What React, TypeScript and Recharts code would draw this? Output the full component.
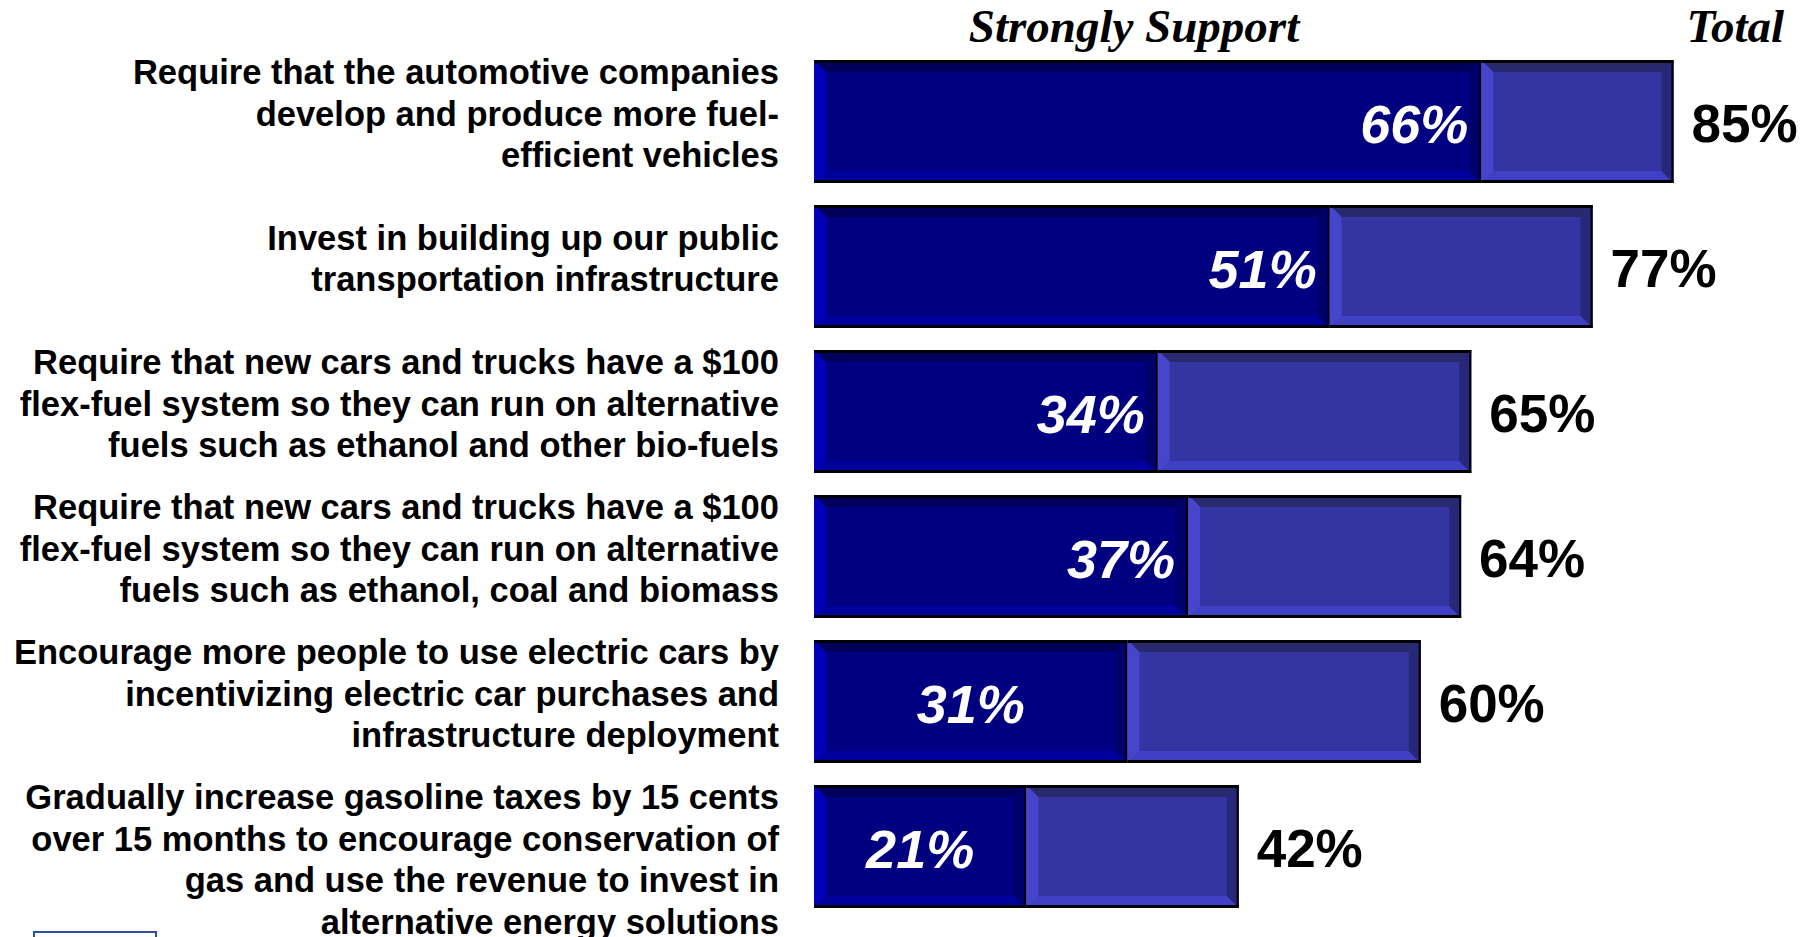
import React from 'react'
import { BarChart, Bar, XAxis, YAxis, LabelList } from 'recharts'

const categories = [
  'Require that the automotive companies\ndevelop and produce more fuel-\nefficient vehicles',
  'Invest in building up our public\ntransportation infrastructure',
  'Require that new cars and trucks have a $100\nflex-fuel system so they can run on alternative\nfuels such as ethanol and other bio-fuels',
  'Require that new cars and trucks have a $100\nflex-fuel system so they can run on alternative\nfuels such as ethanol, coal and biomass',
  'Encourage more people to use electric cars by\nincentivizing electric car purchases and\ninfrastructure deployment',
  'Gradually increase gasoline taxes by 15 cents\nover 15 months to encourage conservation of\ngas and use the revenue to invest in\nalternative energy solutions',
]
const stronglySupport = [66, 51, 34, 37, 31, 21]
const totalSupport = [85, 77, 65, 64, 60, 42]

const data = categories.map((name, i) => ({
  name,
  strong: stronglySupport[i],
  rest: totalSupport[i] - stronglySupport[i],
  total: totalSupport[i],
}))

const TONES = {
  dark: { base: '#000080', top: '#00005c', bottom: '#00009c', left: '#0000b8', right: '#00006a' },
  light: { base: '#3434a2', top: '#29296e', bottom: '#4040c4', left: '#4646cc', right: '#28287a' },
}

function BevelBar(props: any) {
  const { x, y, width: w, height: h, tone } = props
  if (!w || w <= 0) return null
  const c = TONES[tone as 'dark' | 'light']
  const b = 12
  return (
    <g>
      <rect x={x} y={y} width={w} height={h} fill={c.base} />
      <polygon points={`${x},${y} ${x + w},${y} ${x + w - b},${y + b} ${x + b},${y + b}`} fill={c.top} />
      <polygon points={`${x},${y + h} ${x + w},${y + h} ${x + w - b},${y + h - b} ${x + b},${y + h - b}`} fill={c.bottom} />
      <polygon points={`${x},${y} ${x + b},${y + b} ${x + b},${y + h - b} ${x},${y + h}`} fill={c.left} />
      <polygon points={`${x + w},${y} ${x + w - b},${y + b} ${x + w - b},${y + h - b} ${x + w},${y + h}`} fill={c.right} />
      <line x1={x} y1={y + 1.5} x2={x + w} y2={y + 1.5} stroke="#000" strokeWidth={3} />
      <line x1={x} y1={y + h - 1.5} x2={x + w} y2={y + h - 1.5} stroke="#000" strokeWidth={3} />
      <line x1={x + w - 1} y1={y} x2={x + w - 1} y2={y + h} stroke="#000" strokeWidth={2} />
    </g>
  )
}

function CategoryTick(props: any) {
  const { x, y, payload } = props
  const lines: string[] = String(payload.value).split('\n')
  const lh = 41.6
  const first = y - Math.min(lines.length - 1, 2) * lh / 2 - 8
  return (
    <text
      textAnchor="end"
      fontFamily="'Liberation Sans', Arial, sans-serif"
      fontWeight="bold"
      fontSize={34.5}
      fill="#000"
    >
      {lines.map((l, i) => (
        <tspan key={i} x={x} y={first + i * lh} dominantBaseline="central">
          {l}
        </tspan>
      ))}
    </text>
  )
}

function StrongLabel(props: any) {
  const { x, y, width, height, value } = props
  // short segments carry their label centred, longer ones at the right end
  const centred = value < 33
  return (
    <text
      x={centred ? x + width / 2 : x + width - 13}
      y={y + height / 2 + 2}
      textAnchor={centred ? 'middle' : 'end'}
      dominantBaseline="central"
      fontFamily="'Liberation Sans', Arial, sans-serif"
      fontWeight="bold"
      fontStyle="italic"
      fontSize={54}
      fill="#fff"
    >
      {value}%
    </text>
  )
}

function TotalLabel(props: any) {
  const { x, y, width, height, value } = props
  return (
    <text
      x={x + width + 18}
      y={y + height / 2 + 2}
      textAnchor="start"
      dominantBaseline="central"
      fontFamily="'Liberation Sans', Arial, sans-serif"
      fontWeight="bold"
      fontSize={53}
      fill="#000"
    >
      {value}%
    </text>
  )
}

export default function App() {
  return (
    <div style={{ position: 'absolute', left: 0, top: 0, width: 1814, height: 937, background: '#fff' }}>
      <BarChart
        width={1814}
        height={937}
        data={data}
        layout="vertical"
        margin={{ top: 49, right: 90, bottom: 18, left: 14 }}
        barSize={123}
      >
        <XAxis type="number" domain={[0, 90]} hide />
        <YAxis
          type="category"
          dataKey="name"
          width={800}
          axisLine={false}
          tickLine={false}
          tickSize={0}
          tickMargin={35}
          tick={<CategoryTick />}
          interval={0}
        />
        <Bar dataKey="strong" stackId="a" isAnimationActive={false} shape={(p: any) => <BevelBar {...p} tone="dark" />}>
          <LabelList dataKey="strong" content={<StrongLabel />} />
        </Bar>
        <Bar dataKey="rest" stackId="a" isAnimationActive={false} shape={(p: any) => <BevelBar {...p} tone="light" />}>
          <LabelList dataKey="total" content={<TotalLabel />} />
        </Bar>
        <text
          x={1134}
          y={42}
          textAnchor="middle"
          fontFamily="'Liberation Serif', 'Times New Roman', serif"
          fontWeight="bold"
          fontStyle="italic"
          fontSize={47}
          fill="#000"
        >
          Strongly Support
        </text>
        <text
          x={1784}
          y={42}
          textAnchor="end"
          fontFamily="'Liberation Serif', 'Times New Roman', serif"
          fontWeight="bold"
          fontStyle="italic"
          fontSize={47}
          fill="#000"
        >
          Total
        </text>
      </BarChart>
      <div
        style={{
          position: 'absolute',
          left: 33,
          top: 931,
          width: 120,
          height: 20,
          border: '2px solid #2f4f9f',
          background: '#fff',
        }}
      />
    </div>
  )
}
